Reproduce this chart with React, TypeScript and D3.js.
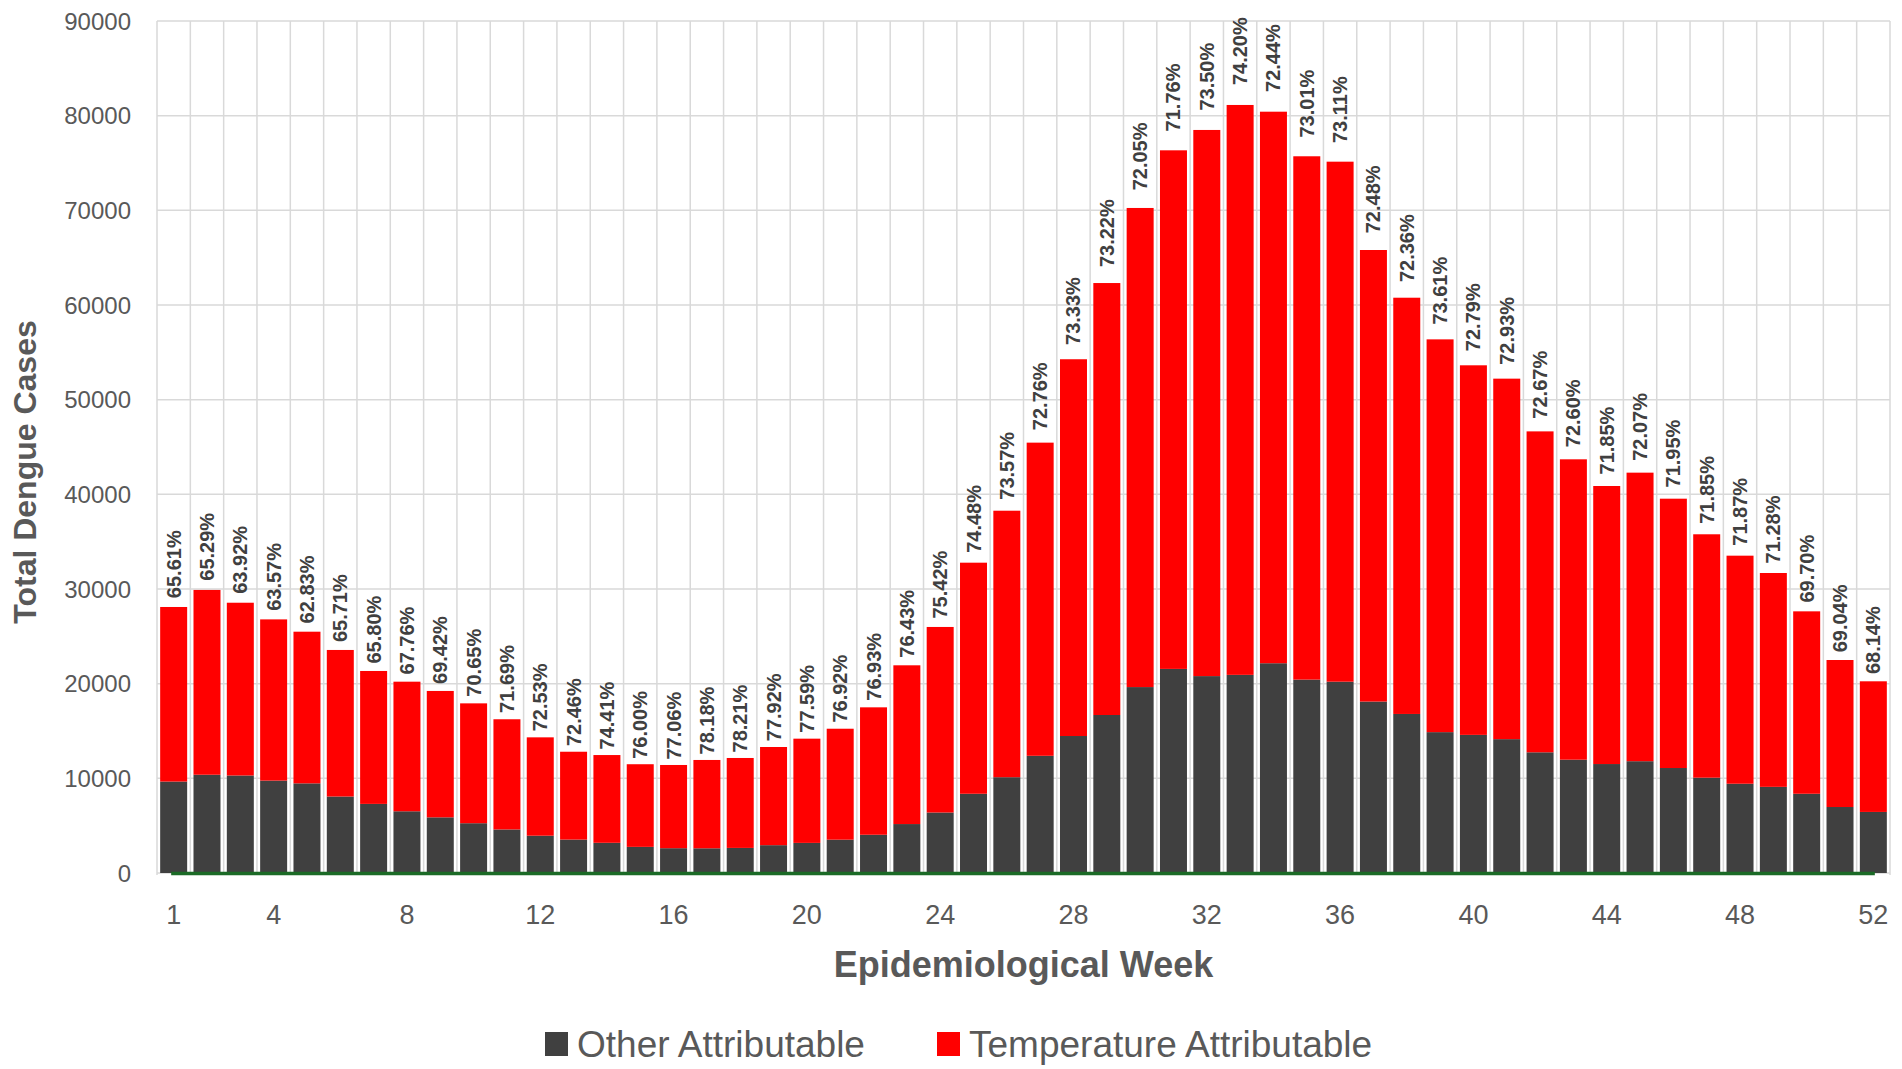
import React, { useEffect } from 'react';
import * as d3 from 'd3';

const weeks = [
  1, 2, 3, 4, 5, 6, 7, 8, 9, 10, 11, 12, 13, 14, 15, 16, 17, 18, 19, 20, 21, 22, 23, 24, 25, 26,
  27, 28, 29, 30, 31, 32, 33, 34, 35, 36, 37, 38, 39, 40, 41, 42, 43, 44, 45, 46, 47, 48, 49, 50, 51, 52,
];

// cases not attributable to temperature (dark segment)
const otherCases = [
  9660, 10380, 10300, 9760, 9470, 8080, 7300, 6520, 5880, 5260, 4600, 3940, 3530, 3190, 2760, 2620,
  2610, 2650, 2940, 3180, 3520, 4040, 5170, 6390, 8370, 10120, 12380, 14470, 16690, 19640, 21560,
  20800, 20930, 22160, 20430, 20210, 18110, 16800, 14880, 14590, 14140, 12750, 11970, 11510, 11810,
  11090, 10070, 9430, 9100, 8370, 6970, 6450,
];

// temperature attributable cases (red segment)
const temperatureCases = [
  18440, 19520, 18250, 17030, 16020, 15480, 14040, 13690, 13350, 12660, 11640, 10390, 9280, 9270,
  8730, 8790, 9330, 9500, 10370, 11010, 11720, 13460, 16770, 19600, 24410, 28150, 33080, 39800,
  45630, 50610, 54780, 57690, 60200, 58260, 55280, 54930, 47700, 43970, 41490, 39040, 38080, 33900,
  31730, 29370, 30480, 28450, 25710, 24090, 22590, 19270, 15530, 13800,
];

const pctLabels = [
  '65.61%', '65.29%', '63.92%', '63.57%', '62.83%', '65.71%', '65.80%', '67.76%', '69.42%', '70.65%',
  '71.69%', '72.53%', '72.46%', '74.41%', '76.00%', '77.06%', '78.18%', '78.21%', '77.92%', '77.59%',
  '76.92%', '76.93%', '76.43%', '75.42%', '74.48%', '73.57%', '72.76%', '73.33%', '73.22%', '72.05%',
  '71.76%', '73.50%', '74.20%', '72.44%', '73.01%', '73.11%', '72.48%', '72.36%', '73.61%', '72.79%',
  '72.93%', '72.67%', '72.60%', '71.85%', '72.07%', '71.95%', '71.85%', '71.87%', '71.28%', '69.70%',
  '69.04%', '68.14%',
];

const xTickWeeks = [1, 4, 8, 12, 16, 20, 24, 28, 32, 36, 40, 44, 48, 52];
const yTickValues = [0, 10000, 20000, 30000, 40000, 50000, 60000, 70000, 80000, 90000];

const seriesKeys = ['other', 'temperature'];
const seriesNames = ['Other Attributable', 'Temperature Attributable'];
const seriesColors = ['#404040', '#ff0000'];

const W = 1902;
const H = 1069;
const plot = { left: 157, right: 1890, top: 21, bottom: 873 };
const FONT = '"Liberation Sans", Arial, sans-serif';
const TEXT = '#595959';

export default function App() {
  useEffect(() => {
    document.body.style.margin = '0';
  }, []);

  const rows = weeks.map((w, i) => ({
    week: w,
    other: otherCases[i],
    temperature: temperatureCases[i],
  }));

  const x = d3
    .scaleBand<number>()
    .domain(weeks)
    .range([plot.left, plot.right])
    .paddingInner(0.19)
    .paddingOuter(0.095);

  const y = d3.scaleLinear().domain([0, 90000]).range([plot.bottom, plot.top]);

  const stacked = d3.stack<any>().keys(seriesKeys)(rows);
  const step = x.step();
  const bandEdges = d3.range(weeks.length + 1).map((i) => plot.left + i * step);

  return (
    <svg width={W} height={H} style={{ display: 'block', background: '#fff' }} fontFamily={FONT}>
      {/* grid */}
      <g stroke="#d9d9d9" strokeWidth={1.5}>
        {yTickValues.map((v) => (
          <line key={'h' + v} x1={plot.left} x2={plot.right} y1={y(v)} y2={y(v)} />
        ))}
        {bandEdges.map((ex, i) => (
          <line key={'v' + i} x1={ex} x2={ex} y1={plot.top} y2={plot.bottom + 2} />
        ))}
      </g>

      {/* stacked bars */}
      {stacked.map((layer, li) => (
        <g key={layer.key} fill={seriesColors[li]}>
          {layer.map((d, i) => (
            <rect
              key={i}
              x={x(weeks[i])}
              width={x.bandwidth()}
              y={y(d[1])}
              height={y(d[0]) - y(d[1])}
            />
          ))}
        </g>
      ))}

      {/* zero line */}
      <line
        x1={x(weeks[0])! + 11}
        x2={x(weeks[weeks.length - 1])! + 15}
        y1={plot.bottom + 0.5}
        y2={plot.bottom + 0.5}
        stroke="#1b6a26"
        strokeWidth={3.5}
      />

      {/* percentage labels */}
      <g fill="#404040" fontWeight="bold" fontSize={20}>
        {rows.map((r, i) => {
          const total = r.other + r.temperature;
          const cx = x(r.week)! + x.bandwidth() / 2;
          const ly = y(total * 1.022) - 3;
          return (
            <text
              key={i}
              transform={`translate(${cx},${ly}) rotate(-90)`}
              dominantBaseline="central"
              textAnchor="start"
            >
              {pctLabels[i]}
            </text>
          );
        })}
      </g>

      {/* y axis ticks */}
      <g fill={TEXT} fontSize={24} textAnchor="end">
        {yTickValues.map((v) => (
          <text key={v} x={131} y={y(v)} dominantBaseline="central">
            {v}
          </text>
        ))}
      </g>

      {/* x axis ticks */}
      <g fill={TEXT} fontSize={27} textAnchor="middle">
        {xTickWeeks.map((w) => (
          <text key={w} x={x(w)! + x.bandwidth() / 2} y={924}>
            {w}
          </text>
        ))}
      </g>

      {/* axis titles */}
      <text
        x={(plot.left + plot.right) / 2}
        y={977}
        textAnchor="middle"
        fontSize={36}
        fontWeight="bold"
        fill={TEXT}
      >
        Epidemiological Week
      </text>
      <text
        transform={`translate(36,472) rotate(-90)`}
        textAnchor="middle"
        fontSize={32}
        fontWeight="bold"
        fill={TEXT}
      >
        Total Dengue Cases
      </text>

      {/* legend */}
      <g fontSize={37} fill={TEXT}>
        {seriesNames.map((name, i) => {
          const lx = [545, 937][i];
          return (
            <g key={name}>
              <rect x={lx} y={1032} width={23} height={24} fill={seriesColors[i]} />
              <text x={lx + 32} y={1057}>
                {name}
              </text>
            </g>
          );
        })}
      </g>
    </svg>
  );
}
